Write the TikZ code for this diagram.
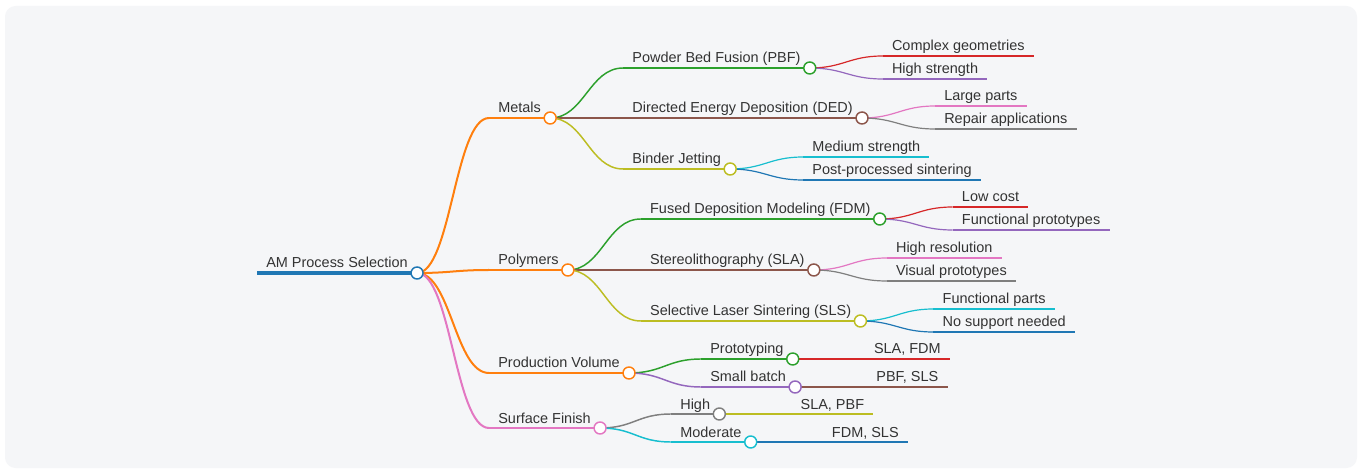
\documentclass[tikz,border=0pt]{standalone}
\usepackage{fontspec}
\setmainfont{Liberation Sans}
\usetikzlibrary{calc}

\definecolor{bgc}{HTML}{F5F6F8}
\definecolor{txt}{HTML}{333333}
\definecolor{cblue}{HTML}{1F77B4}
\definecolor{corange}{HTML}{FF7F0E}
\definecolor{cgreen}{HTML}{2CA02C}
\definecolor{cred}{HTML}{D62728}
\definecolor{cpurple}{HTML}{9467BD}
\definecolor{cbrown}{HTML}{8C564B}
\definecolor{cpink}{HTML}{E377C2}
\definecolor{cgray}{HTML}{7F7F7F}
\definecolor{colive}{HTML}{BCBD22}
\definecolor{ccyan}{HTML}{17BECF}

\begin{document}
\begin{tikzpicture}[x=0.75pt,y=-0.75pt,font=\fontsize{10.85pt}{13pt}\selectfont,
  topic/.style={anchor=south west,inner xsep=6.75pt,inner ysep=0.55pt,text height=8pt,text depth=3pt,text=txt},
  dot/.style={circle,draw=#1,fill=white,line width=1.1pt,minimum size=9pt,inner sep=0pt},
  link/.style={draw=#1,to path={.. controls +(34,0) and +(-34,0) .. (\tikztotarget)}}]
\useasboundingbox (0,0) rectangle (1362,473);
\fill[white] (0,0) rectangle (1362,473);
\fill[bgc,rounded corners=8] (5,6) rectangle (1357,468);

\node[topic] (root) at (257,273) {AM Process Selection};
\node[topic] (metals)   at ($(root.south east)+(72,-155)$) {Metals};
\node[topic] (polymers) at ($(root.south east)+(72,-3)$) {Polymers};
\node[topic] (volume)   at ($(root.south east)+(72,100)$) {Production Volume};
\node[topic] (finish)   at ($(root.south east)+(72,155)$) {Surface Finish};

\node[topic] (pbf)    at ($(metals.south east)+(73,-50)$) {Powder Bed Fusion (PBF)};
\node[topic] (ded)    at ($(metals.south east)+(73,0)$) {Directed Energy Deposition (DED)};
\node[topic] (binder) at ($(metals.south east)+(73,51)$) {Binder Jetting};
\node[topic] (complex)  at ($(pbf.south east)+(73,-12)$) {Complex geometries};
\node[topic] (strength) at ($(pbf.south east)+(73,11)$) {High strength};
\node[topic] (large)    at ($(ded.south east)+(73,-12)$) {Large parts};
\node[topic] (repair)   at ($(ded.south east)+(73,11)$) {Repair applications};
\node[topic] (medium)   at ($(binder.south east)+(73,-12)$) {Medium strength};
\node[topic] (sinter)   at ($(binder.south east)+(73,11)$) {Post-processed sintering};

\node[topic] (fdm) at ($(polymers.south east)+(73,-51)$) {Fused Deposition Modeling (FDM)};
\node[topic] (sla) at ($(polymers.south east)+(73,0)$) {Stereolithography (SLA)};
\node[topic] (sls) at ($(polymers.south east)+(73,51)$) {Selective Laser Sintering (SLS)};
\node[topic] (lowcost)   at ($(fdm.south east)+(73,-12)$) {Low cost};
\node[topic] (funcproto) at ($(fdm.south east)+(73,11)$) {Functional prototypes};
\node[topic] (highres)   at ($(sla.south east)+(73,-12)$) {High resolution};
\node[topic] (visual)    at ($(sla.south east)+(73,11)$) {Visual prototypes};
\node[topic] (funcparts) at ($(sls.south east)+(73,-12)$) {Functional parts};
\node[topic] (nosupport) at ($(sls.south east)+(73,11)$) {No support needed};

\node[topic] (proto) at ($(volume.south east)+(72,-14)$) {Prototyping};
\node[topic] (batch) at ($(volume.south east)+(72,14)$) {Small batch};
\node[topic] (protoleaf) at ($(proto.south east)+(72,0)$) {SLA, FDM};
\node[topic] (batchleaf) at ($(batch.south east)+(72,0)$) {PBF, SLS};
\node[topic] (high)     at ($(finish.south east)+(71,-14)$) {High};
\node[topic] (moderate) at ($(finish.south east)+(71,14)$) {Moderate};
\node[topic] (highleaf) at ($(high.south east)+(72,0)$) {SLA, PBF};
\node[topic] (modleaf)  at ($(moderate.south east)+(72,0)$) {FDM, SLS};

\foreach \n/\c/\w in {root/cblue/3pt,metals/corange/1.7pt,polymers/corange/1.7pt,volume/corange/1.7pt,finish/cpink/1.7pt,
  pbf/cgreen/1.5pt,ded/cbrown/1.5pt,binder/colive/1.5pt,fdm/cgreen/1.5pt,sla/cbrown/1.5pt,sls/colive/1.5pt,
  proto/cgreen/1.5pt,batch/cpurple/1.5pt,high/cgray/1.5pt,moderate/ccyan/1.5pt,
  complex/cred/1.1pt,strength/cpurple/1.1pt,large/cpink/1.1pt,repair/cgray/1.1pt,medium/ccyan/1.1pt,sinter/cblue/1.1pt,
  lowcost/cred/1.1pt,funcproto/cpurple/1.1pt,highres/cpink/1.1pt,visual/cgray/1.1pt,funcparts/ccyan/1.1pt,nosupport/cblue/1.1pt,
  protoleaf/cred/1.1pt,batchleaf/cbrown/1.1pt,highleaf/colive/1.1pt,modleaf/cblue/1.1pt}
  \draw[\c,line width=\w] (\n.south west) -- (\n.south east);

\foreach \a/\b/\c/\w in {root/metals/corange/1.5pt,root/polymers/corange/1.5pt,root/volume/corange/1.5pt,root/finish/cpink/1.5pt,
  metals/pbf/cgreen/1.1pt,metals/ded/cbrown/1.1pt,metals/binder/colive/1.1pt,
  polymers/fdm/cgreen/1.1pt,polymers/sla/cbrown/1.1pt,polymers/sls/colive/1.1pt,
  volume/proto/cgreen/1.1pt,volume/batch/cpurple/1.1pt,finish/high/cgray/1.1pt,finish/moderate/ccyan/1.1pt,
  pbf/complex/cred/0.9pt,pbf/strength/cpurple/0.9pt,ded/large/cpink/0.9pt,ded/repair/cgray/0.9pt,
  binder/medium/ccyan/0.9pt,binder/sinter/cblue/0.9pt,fdm/lowcost/cred/0.9pt,fdm/funcproto/cpurple/0.9pt,
  sla/highres/cpink/0.9pt,sla/visual/cgray/0.9pt,sls/funcparts/ccyan/0.9pt,sls/nosupport/cblue/0.9pt,
  proto/protoleaf/cred/0.9pt,batch/batchleaf/cbrown/0.9pt,high/highleaf/colive/0.9pt,moderate/modleaf/cblue/0.9pt}
  \draw[link=\c,line width=\w] (\a.south east) to (\b.south west);

\foreach \n/\c in {root/cblue,metals/corange,polymers/corange,volume/corange,finish/cpink,
  pbf/cgreen,ded/cbrown,binder/colive,fdm/cgreen,sla/cbrown,sls/colive,
  proto/cgreen,batch/cpurple,high/cgray,moderate/ccyan}
  \node[dot=\c] (\n-dot) at (\n.south east) {};
\end{tikzpicture}
\end{document}
